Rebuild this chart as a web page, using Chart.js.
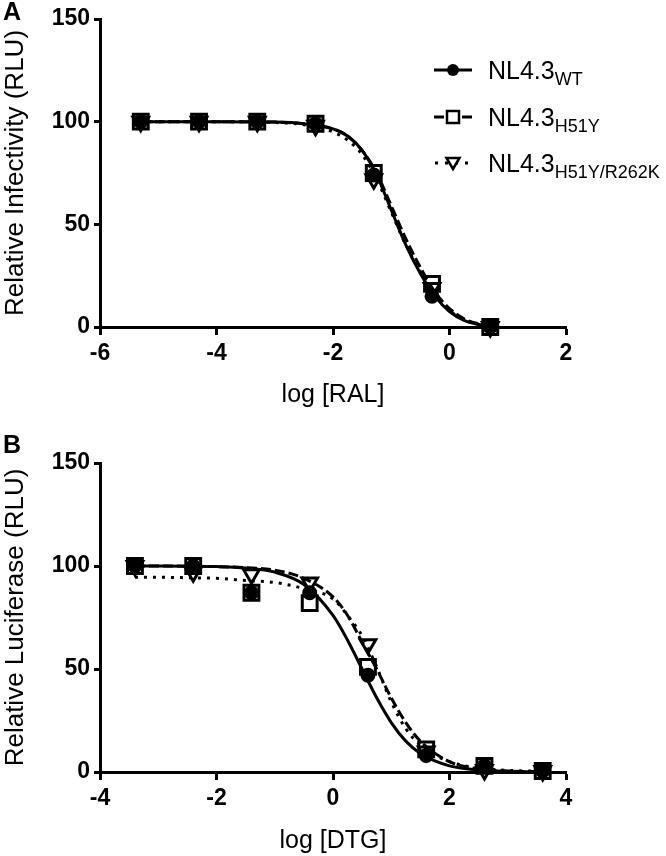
<!DOCTYPE html>
<html>
<head>
<meta charset="utf-8">
<script src="https://cdn.jsdelivr.net/npm/chart.js@4"></script>
<style>
  body { margin: 0; background: #fff; }
  #wrap { position: relative; width: 666px; height: 856px; font-family: "Liberation Sans", Arial, sans-serif; color: #000; }
  canvas { position: absolute; left: 0; }
  .panel { position: absolute; left: 3px; font-weight: bold; font-size: 25px; }
  .key { position: absolute; left: 434px; height: 30px; display: flex; align-items: center; }
  .key svg { width: 40px; height: 20px; }
  .key span { margin-left: 14px; font-size: 25px; line-height: 30px; white-space: nowrap; }
  .key sub { font-size: 18px; vertical-align: -6px; line-height: 0; }
</style>
</head>
<body>
<div id="wrap">
  <canvas id="chartA" width="666" height="430" style="top:0"></canvas>
  <canvas id="chartB" width="666" height="412" style="top:444px"></canvas>
  <div class="panel" style="top:-3px">A</div>
  <div class="panel" style="top:430px">B</div>

  <div class="key" style="top:55px">
    <svg viewBox="0 0 40 20"><line x1="0" y1="10" x2="38" y2="10" stroke="#000" stroke-width="3"/><circle cx="19" cy="10" r="6" fill="#000"/></svg>
    <span>NL4.3<sub>WT</sub></span>
  </div>
  <div class="key" style="top:102px">
    <svg viewBox="0 0 40 20"><line x1="0" y1="10" x2="38" y2="10" stroke="#000" stroke-width="3" stroke-dasharray="10 4"/><rect x="13" y="4" width="12" height="12" fill="#fff" stroke="#000" stroke-width="2.5"/></svg>
    <span>NL4.3<sub>H51Y</sub></span>
  </div>
  <div class="key" style="top:148px">
    <svg viewBox="0 0 40 20"><line x1="1" y1="10" x2="38" y2="10" stroke="#000" stroke-width="3" stroke-dasharray="3 7"/><polygon points="12.5,5 25.5,5 19,16" fill="#fff" stroke="#000" stroke-width="2.5"/></svg>
    <span>NL4.3<sub>H51Y/R262K</sub></span>
  </div>
</div>
<script>
// panel A: raltegravir
const ralX = [-5.3, -4.3, -3.3, -2.3, -1.3, -0.3, 0.7];
const wtRal = [100, 100, 100, 99, 74, 15, 0];
const h51yRal = [100, 100, 100, 99, 75, 21, 0];
const r262kRal = [100, 100, 100, 98, 72, 19, 0];

// fitted curves
const ralCurveX = [-5.3, -4, -3, -2.5, -2, -1.75, -1.5, -1.25, -1, -0.75, -0.5, -0.25, 0, 0.25, 0.5, 0.7];
const wtRalCurve = [100, 100, 99.8, 99, 96.5, 93, 86, 74, 57, 40, 26, 15, 7.5, 3.2, 1.2, 0.4];
const h51yRalCurve = [100, 100, 99.8, 99, 96.5, 93, 86, 75, 59, 43, 29, 17, 9, 4, 1.6, 0.6];
const r262kRalCurve = [100, 100, 99.6, 98.5, 95, 91, 84, 72, 56, 40, 27, 16, 8, 3.5, 1.2, 0.4];

// panel B: dolutegravir
const dtgX = [-3.4, -2.4, -1.4, -0.4, 0.6, 1.6, 2.6, 3.6];
const wtDtg = [100, 100, 87, 87, 47, 8, 3, 0.5];
const h51yDtg = [100, 100, 87, 82, 51, 11, 3, 0.5];
const r262kDtg = [100, 97, 96, 92, 62, 10, 1, 0.5];

const dtgCurveX = [-3.4, -3, -2.5, -2, -1.5, -1, -0.5, 0, 0.25, 0.5, 0.75, 1, 1.25, 1.5, 2, 2.5, 3, 3.6];
const wtDtgCurve = [100, 100, 99.9, 99.7, 99, 97, 91, 76, 64, 50, 36, 24, 15, 9, 3, 1, 0.3, 0.1];
const h51yDtgCurve = [100, 100, 99.9, 99.7, 99.2, 98, 94, 85, 76, 63, 50, 36, 24, 15, 5, 1.5, 0.5, 0.2];
const r262kDtgCurve = [94.5, 94.5, 94.3, 94, 93, 92, 89, 84, 76, 66, 51, 34, 21, 13, 5, 2, 0.8, 0.3];

const xTicksA = { min: -6, max: 2, step: 2 };
const xTicksB = { min: -4, max: 4, step: 2 };
const yTicks = { min: 0, max: 150, step: 50 };

const pts = (xs, ys) => xs.map((x, i) => ({ x, y: ys[i] }));
const tickFont = { family: "Liberation Sans", size: 23, weight: "bold" };
const titleFont = { family: "Liberation Sans", size: 25 };
const yTitleFont = { family: "Liberation Sans", size: 26 };

function curve(xs, ys, dash) {
    return {
        data: pts(xs, ys), borderColor: "#000", borderWidth: 3, borderDash: dash,
        pointRadius: 0, cubicInterpolationMode: "monotone", fill: false, order: 2, clip: false
    };
}
function marks(xs, ys, style, radius, filled, rotation) {
    return {
        data: pts(xs, ys), showLine: false, pointStyle: style, pointRadius: radius,
        pointRotation: rotation || 0, pointBorderWidth: 3, pointBorderColor: "#000",
        pointBackgroundColor: filled ? "#000" : "rgba(0,0,0,0)", order: 1, clip: false
    };
}

function makeChart(id, xr, xTitle, yTitle, xHeight, titleBottom, sets) {
    new Chart(document.getElementById(id), {
        type: "line",
        data: { datasets: sets },
        options: {
            responsive: false, animation: false,
            layout: { padding: { top: 19, right: 100, bottom: 0, left: 0 } },
            plugins: { legend: { display: false }, tooltip: { enabled: false } },
            scales: {
                x: {
                    type: "linear", min: xr.min, max: xr.max,
                    ticks: { stepSize: xr.step, color: "#000", font: tickFont, padding: 5 },
                    grid: { drawOnChartArea: false, tickLength: 8, tickWidth: 3, tickColor: "#000" },
                    border: { color: "#000", width: 3 },
                    title: { display: true, text: xTitle, color: "#000", font: titleFont, padding: { top: 0, bottom: titleBottom } },
                    afterFit: s => { s.height = xHeight; }
                },
                y: {
                    min: yTicks.min, max: yTicks.max,
                    ticks: { stepSize: yTicks.step, color: "#000", font: tickFont, padding: 4 },
                    grid: { drawOnChartArea: false, tickLength: 6, tickWidth: 3, tickColor: "#000" },
                    border: { color: "#000", width: 3 },
                    title: { display: true, text: yTitle, color: "#000", font: yTitleFont, padding: 0 },
                    afterFit: s => { s.width = 100; }
                }
            }
        }
    });
}

makeChart("chartA", xTicksA, "log [RAL]", "Relative Infectivity (RLU)", 103, 20, [
    marks(ralX, wtRal, "circle", 6, true),
    marks(ralX, h51yRal, "rect", 10.5, false),
    marks(ralX, r262kRal, "triangle", 9, false, 180),
    curve(ralCurveX, wtRalCurve, []),
    curve(ralCurveX, h51yRalCurve, [10, 4]),
    curve(ralCurveX, r262kRalCurve, [3, 6])
]);

makeChart("chartB", xTicksB, "log [DTG]", "Relative Luciferase (RLU)", 84, 0, [
    marks(dtgX, wtDtg, "circle", 6, true),
    marks(dtgX, h51yDtg, "rect", 10.5, false),
    marks(dtgX, r262kDtg, "triangle", 9, false, 180),
    curve(dtgCurveX, wtDtgCurve, []),
    curve(dtgCurveX, h51yDtgCurve, [10, 4]),
    curve(dtgCurveX, r262kDtgCurve, [3, 6])
]);
</script>
</body>
</html>
